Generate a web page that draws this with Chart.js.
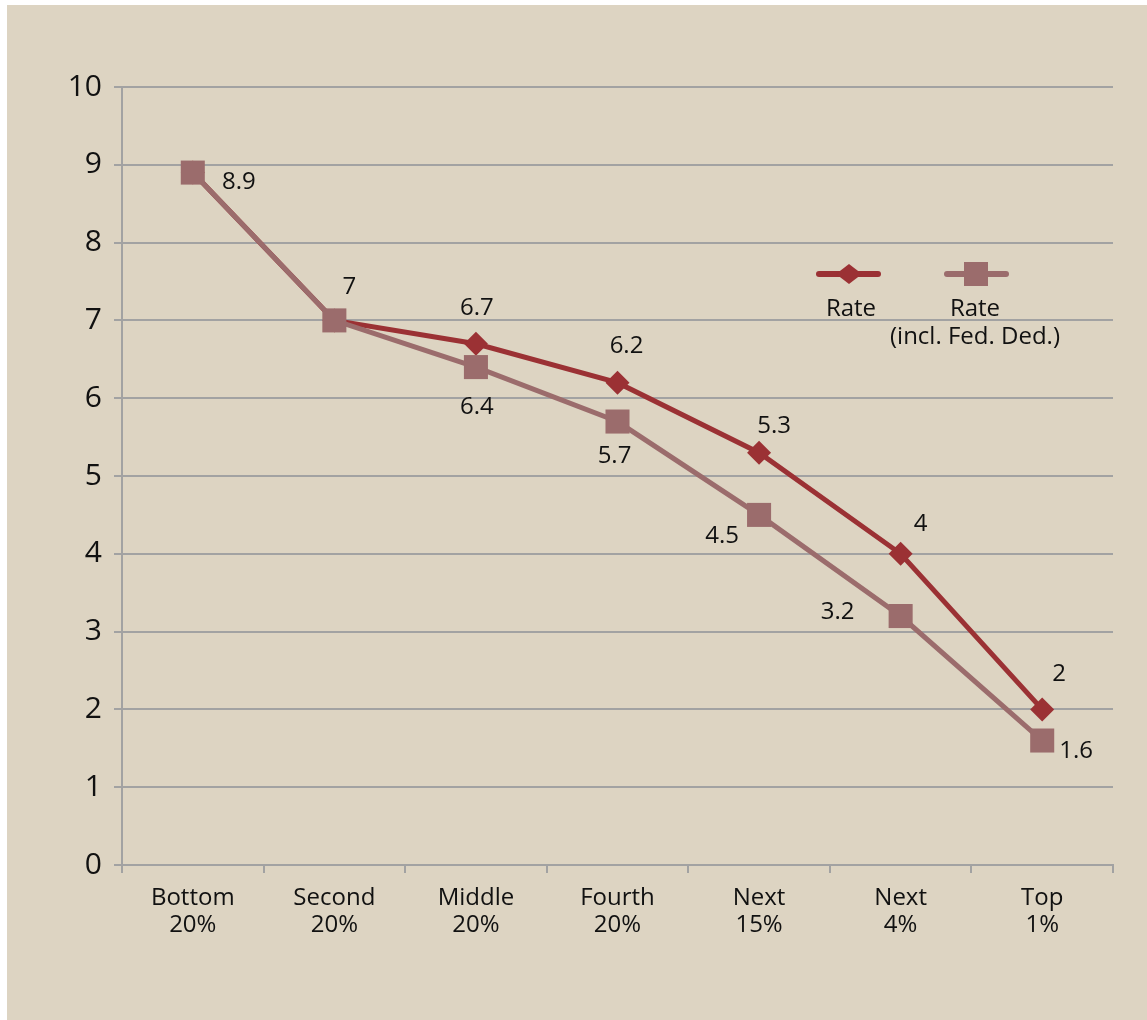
<!DOCTYPE html>
<html>
<head>
<meta charset="utf-8">
<script src="https://cdn.jsdelivr.net/npm/chart.js@4/dist/chart.umd.min.js"></script>
<style>
  body { margin: 0; background: #fff; }
  #box { position: absolute; left: 7px; top: 5px; width: 1140px; height: 1015px; background: #ddd4c2; }
</style>
</head>
<body>
<div id="box"><canvas id="rateChart" width="1140" height="1015"></canvas></div>
<script>
// data
var categories = [['Bottom', '20%'], ['Second', '20%'], ['Middle', '20%'], ['Fourth', '20%'], ['Next', '15%'], ['Next', '4%'], ['Top', '1%']];
var rate = [8.9, 7, 6.7, 6.2, 5.3, 4, 2];
var rateFedDed = [8.9, 7, 6.4, 5.7, 4.5, 3.2, 1.6];
var yTicks = [0, 1, 2, 3, 4, 5, 6, 7, 8, 9, 10];

// label placement (pixel offsets from the point, null = no label)
var rateLabelOffsets = [null, null, [1, -36], [9, -36], [15, -27], [20, -30], [17, -35]];
var fedLabelOffsets = [[46, 10], [15, -33], [1, 40], [-3, 35], [-37, 21], [-63, -4], [34, 11]];

var red = '#9b3134';
var mauve = '#9b6c6c';
var grid = '#a2a2a2';
var fontFam = '"Open Sans", "Noto Sans", sans-serif';

var valueLabels = {
  id: 'valueLabels',
  afterDatasetsDraw: function(chart) {
    var ctx = chart.ctx;
    var sets = [[0, rateLabelOffsets], [1, fedLabelOffsets]];
    ctx.save();
    ctx.font = '24px ' + fontFam;
    ctx.fillStyle = '#111';
    ctx.textAlign = 'center';
    ctx.textBaseline = 'middle';
    sets.forEach(function(s) {
      var meta = chart.getDatasetMeta(s[0]);
      var vals = chart.data.datasets[s[0]].data;
      meta.data.forEach(function(pt, i) {
        var off = s[1][i];
        if (!off) return;
        ctx.fillText(String(vals[i]), pt.x + off[0], pt.y + off[1]);
      });
    });
    ctx.restore();
  }
};

var customLegend = {
  id: 'customLegend',
  afterDraw: function(chart) {
    var ctx = chart.ctx;
    var a = chart.chartArea;
    var y = a.top + 187;
    ctx.save();
    ctx.lineCap = 'round';
    ctx.lineWidth = 6;
    // Rate
    ctx.strokeStyle = red;
    ctx.beginPath(); ctx.moveTo(a.left + 697, y); ctx.lineTo(a.left + 756, y); ctx.stroke();
    ctx.fillStyle = red;
    ctx.beginPath();
    ctx.moveTo(a.left + 727, y - 10); ctx.lineTo(a.left + 740, y);
    ctx.lineTo(a.left + 727, y + 10); ctx.lineTo(a.left + 714, y);
    ctx.closePath(); ctx.fill();
    // Rate incl. Fed. Ded.
    ctx.strokeStyle = mauve;
    ctx.beginPath(); ctx.moveTo(a.left + 825, y); ctx.lineTo(a.left + 884, y); ctx.stroke();
    ctx.fillStyle = mauve;
    ctx.fillRect(a.left + 842, y - 12, 24, 24);
    ctx.fillStyle = '#111';
    ctx.font = '24px ' + fontFam;
    ctx.textAlign = 'center';
    ctx.textBaseline = 'alphabetic';
    ctx.fillText('Rate', a.left + 729, y + 42);
    ctx.fillText('Rate', a.left + 853, y + 42);
    ctx.fillText('(incl. Fed. Ded.)', a.left + 853, y + 70);
    ctx.restore();
  }
};

var ctx = document.getElementById('rateChart').getContext('2d');
var rateChart = new Chart(ctx, {
  type: 'line',
  data: {
    labels: categories,
    datasets: [{
      label: 'Rate',
      data: rate,
      borderColor: red,
      backgroundColor: red,
      borderWidth: 5,
      pointStyle: 'rectRot',
      pointRadius: 12,
      pointBorderWidth: 0,
      order: 2
    }, {
      label: 'Rate (incl. Fed. Ded.)',
      data: rateFedDed,
      borderColor: mauve,
      backgroundColor: mauve,
      borderWidth: 5,
      pointStyle: 'rect',
      pointRadius: 17,
      pointBorderWidth: 0,
      order: 1
    }]
  },
  options: {
    responsive: false,
    animation: false,
    layout: { padding: { left: 0, top: 82, right: 34, bottom: 0 } },
    plugins: { legend: { display: false }, tooltip: { enabled: false } },
    scales: {
      x: {
        offset: true,
        grid: { offset: true, drawOnChartArea: false, drawTicks: true, tickLength: 8, color: grid, lineWidth: 2 },
        border: { color: grid, width: 2 },
        ticks: { color: '#111', font: { family: fontFam, size: 24, lineHeight: 1.12 }, padding: 12, maxRotation: 0, autoSkip: false },
        afterFit: function(scale) { scale.height = 155; }
      },
      y: {
        min: 0,
        max: 10,
        afterBuildTicks: function(scale) { scale.ticks = yTicks.map(function(v) { return { value: v }; }); },
        grid: { color: grid, lineWidth: 2, tickLength: 8 },
        border: { color: grid, width: 2 },
        ticks: { color: '#111', font: { family: fontFam, size: 30 }, padding: 12 },
        afterFit: function(scale) { scale.width = 115; }
      }
    }
  },
  plugins: [valueLabels, customLegend]
});
</script>
</body>
</html>
